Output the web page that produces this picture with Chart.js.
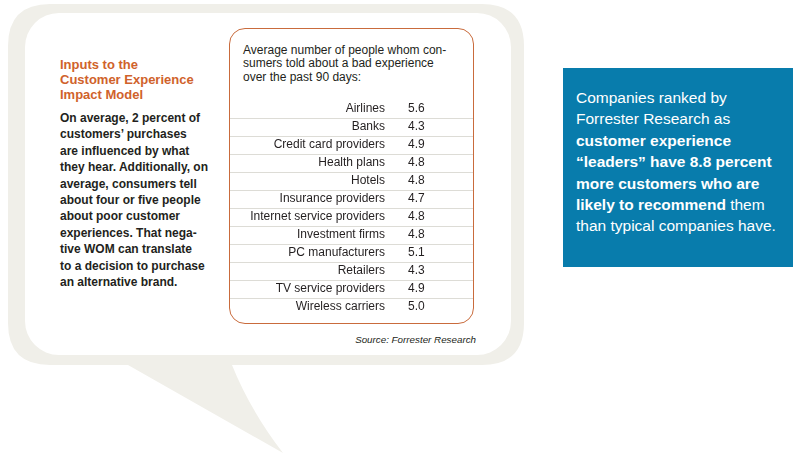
<!DOCTYPE html>
<html>
<head>
<meta charset="utf-8">
<script src="https://cdn.jsdelivr.net/npm/chart.js@4"></script>
<style>
  html, body { margin:0; padding:0; background:#fff; }
  body { width:800px; height:460px; position:relative; overflow:hidden; font-family:"Liberation Sans", Arial, sans-serif; color:#231f20; }
  #bubble { position:absolute; left:0; top:0; }
  .abs { position:absolute; }
  #title { left:60px; top:57px; font-size:13px; line-height:15px; font-weight:bold; color:#d0622b; }
  #para { left:60px; top:110px; font-size:12px; line-height:16.4px; font-weight:bold; }
  #tbox { left:229px; top:28px; width:243px; height:294px; border:1px solid #c96b3c; border-radius:16px; }
  #thead { left:243px; top:44px; font-size:12px; line-height:13.3px; }
  #chartwrap { left:229px; top:93px; width:245px; height:230px; }
  #c { display:block; }
  #source { left:300px; width:176px; text-align:right; top:334px; font-size:9.8px; font-style:italic; }
  #blue { left:563px; top:68px; width:230px; height:199px; background:#087cac; }
  #bluetext { left:576px; top:87px; font-size:15.5px; line-height:21.4px; color:#fff; white-space:nowrap; }
  #bluetext b { font-weight:bold; }
</style>
</head>
<body>
<svg id="bubble" width="800" height="460">
  <path d="M50,4 H482 Q524,4 524,46 V323 Q524,365 482,365 H232 Q250,410 283,453 L128,365 H50 Q8,365 8,323 V46 Q8,4 50,4 Z" fill="#f0efe9"/>
  <rect x="25" y="13" width="486" height="342" rx="34" ry="34" fill="#ffffff"/>
</svg>

<div id="title" class="abs">Inputs to the<br>Customer Experience<br>Impact Model</div>
<div id="para" class="abs">On average, 2 percent of<br>customers’ purchases<br>are influenced by what<br>they hear. Additionally, on<br>average, consumers tell<br>about four or five people<br>about poor customer<br>experiences. That nega-<br>tive WOM can translate<br>to a decision to purchase<br>an alternative brand.</div>

<div id="tbox" class="abs"></div>
<div id="thead" class="abs">Average number of people whom con-<br>sumers told about a bad experience<br>over the past 90 days:</div>
<div id="chartwrap" class="abs"><canvas id="c" width="245" height="230"></canvas></div>
<div id="source" class="abs">Source: Forrester Research</div>

<div id="blue" class="abs"></div>
<div id="bluetext" class="abs">Companies ranked by<br>Forrester Research as<br><b>customer experience</b><br><b>“leaders” have 8.8 percent</b><br><b>more customers who are</b><br><b>likely to recommend</b> them<br>than typical companies have.</div>

<script>
const categories = ["Airlines", "Banks", "Credit card providers", "Health plans", "Hotels",
  "Insurance providers", "Internet service providers", "Investment firms", "PC manufacturers",
  "Retailers", "TV service providers", "Wireless carriers"];
const values = [5.6, 4.3, 4.9, 4.8, 4.8, 4.7, 4.8, 4.8, 5.1, 4.3, 4.9, 5.0];

const tablePlugin = {
  id: 'tablePlugin',
  afterDatasetsDraw(chart) {
    const ctx = chart.ctx;
    const y = chart.scales.y;
    const area = chart.chartArea;
    ctx.save();
    // row separators between categories
    ctx.strokeStyle = '#dddcd6';
    ctx.lineWidth = 1;
    for (let i = 0; i < categories.length - 1; i++) {
      const yy = Math.round((y.getPixelForValue(i) + y.getPixelForValue(i + 1)) / 2) + 0.5;
      ctx.beginPath();
      ctx.moveTo(1, yy);
      ctx.lineTo(chart.width - 1, yy);
      ctx.stroke();
    }
    // value column
    ctx.fillStyle = '#231f20';
    ctx.font = '12px "Liberation Sans", Arial, sans-serif';
    ctx.textAlign = 'left';
    ctx.textBaseline = 'middle';
    values.forEach((v, i) => {
      ctx.fillText(v.toFixed(1), area.left + 23, y.getPixelForValue(i));
    });
    ctx.restore();
  }
};

new Chart(document.getElementById('c'), {
  type: 'bar',
  data: {
    labels: categories,
    datasets: [{ data: values, backgroundColor: 'rgba(0,0,0,0)', borderWidth: 0 }]
  },
  options: {
    indexAxis: 'y',
    responsive: false,
    animation: false,
    layout: { padding: 0 },
    plugins: { legend: { display: false }, tooltip: { enabled: false } },
    scales: {
      x: { display: false, min: 0, max: 10 },
      y: {
        afterFit(scale) { scale.width = 156; },
        grid: { display: false, drawTicks: false },
        border: { display: false },
        ticks: { padding: 0, color: '#231f20', font: { family: '"Liberation Sans", Arial, sans-serif', size: 12 } }
      }
    }
  },
  plugins: [tablePlugin]
});
</script>
</body>
</html>
